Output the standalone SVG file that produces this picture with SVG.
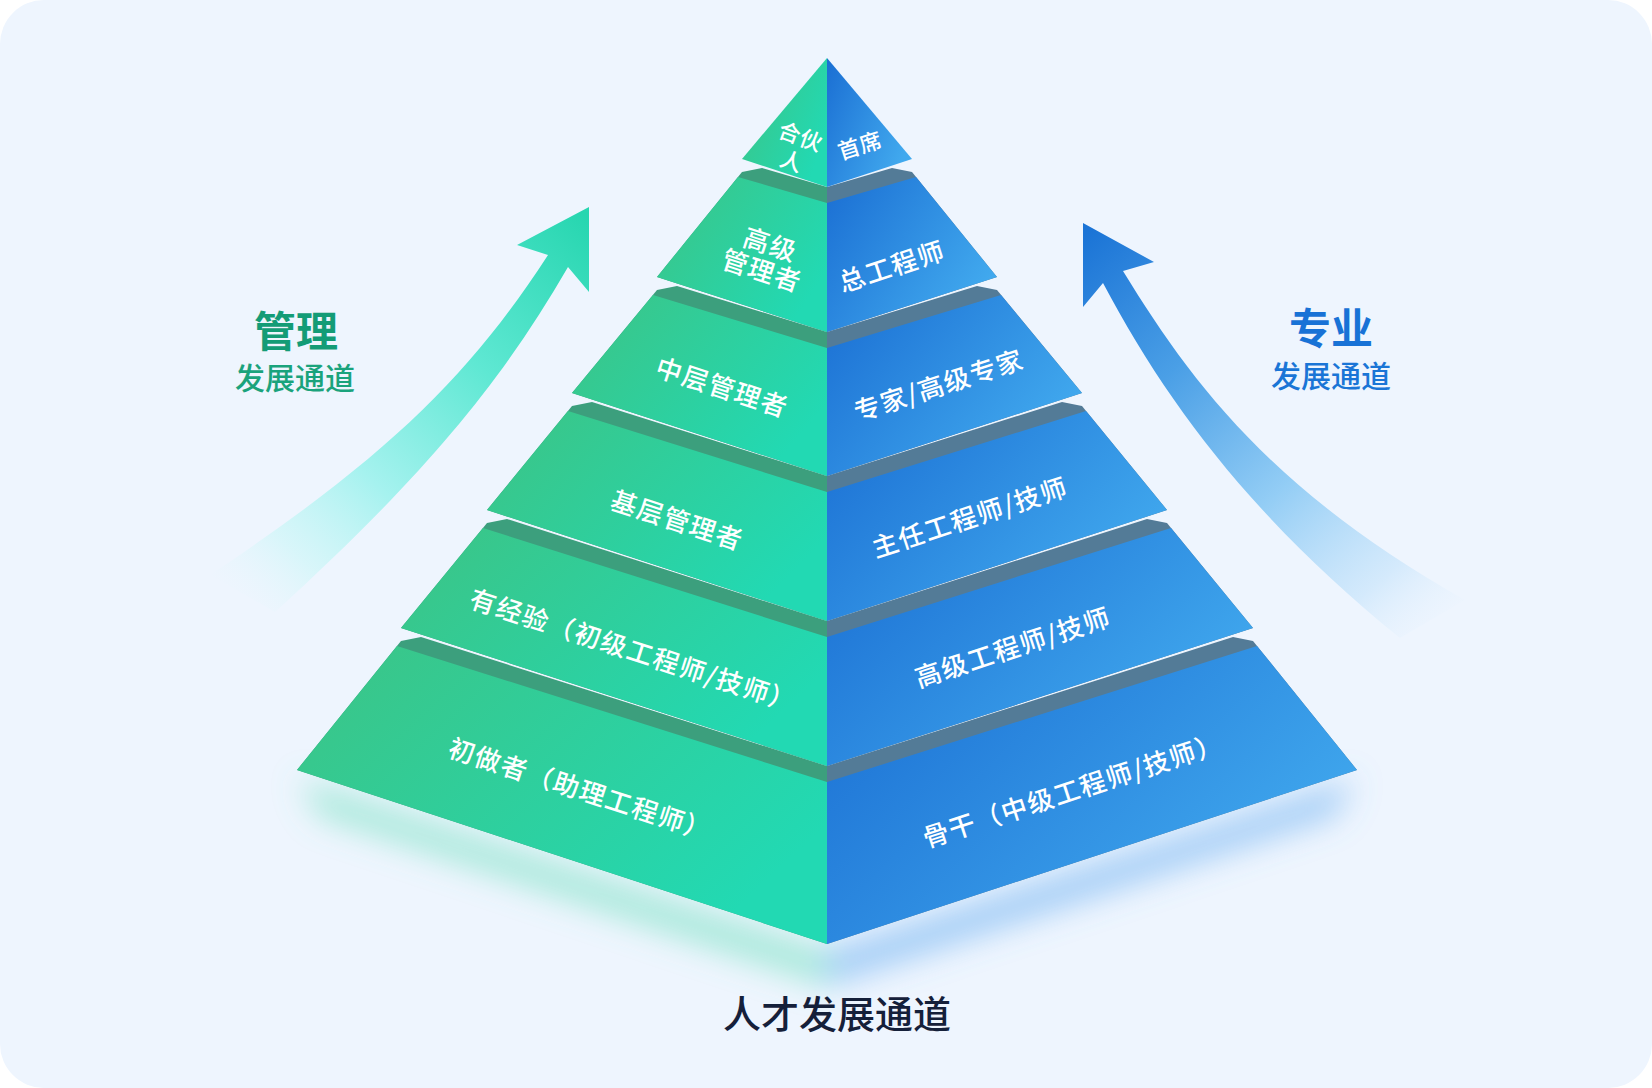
<svg xmlns="http://www.w3.org/2000/svg" width="1652" height="1088" viewBox="0 0 1652 1088">
<defs>
<style>
.lbl{font-family:"Noto Sans CJK SC","Noto Sans",sans-serif;font-size:26px;font-weight:500;fill:#ffffff;text-anchor:middle;letter-spacing:1.5px}
.sm{font-size:22px;letter-spacing:0.5px}
.shL{fill:#3c9f7d}
.shR{fill:#537b97}
.fL{fill:url(#gL)}
.fR{fill:url(#gR)}
.ttl{font-family:"Noto Sans CJK SC","Noto Sans",sans-serif;text-anchor:middle}
</style>
<linearGradient id="gL" x1="0" y1="0" x2="1" y2="0.6">
<stop offset="0" stop-color="#3cc485"/>
<stop offset="1" stop-color="#22d9b3"/>
</linearGradient>
<linearGradient id="gR" x1="0" y1="0" x2="1" y2="0.6">
<stop offset="0" stop-color="#1a6ed3"/>
<stop offset="1" stop-color="#41a9ee"/>
</linearGradient>
<linearGradient id="arrL" gradientUnits="userSpaceOnUse" x1="585" y1="215" x2="230" y2="600">
<stop offset="0" stop-color="#27d6b0"/>
<stop offset="0.35" stop-color="#5fe8d3"/>
<stop offset="0.65" stop-color="#a6f2ef"/>
<stop offset="0.85" stop-color="#cff6f8" stop-opacity="0.7"/>
<stop offset="1" stop-color="#e8f6fd" stop-opacity="0"/>
</linearGradient>
<linearGradient id="arrR" gradientUnits="userSpaceOnUse" x1="1090" y1="230" x2="1440" y2="635">
<stop offset="0" stop-color="#1b74d6"/>
<stop offset="0.3" stop-color="#4a9fe6"/>
<stop offset="0.6" stop-color="#93cdf5"/>
<stop offset="0.85" stop-color="#c9e5fb" stop-opacity="0.7"/>
<stop offset="1" stop-color="#e6f2fe" stop-opacity="0"/>
</linearGradient>
<filter id="blur" x="-30%" y="-30%" width="160%" height="160%">
<feGaussianBlur stdDeviation="16"/>
</filter>
</defs>

<rect width="1652" height="1088" fill="#ffffff"/>
<rect width="1652" height="1088" rx="44" fill="#eef5fe"/>

<!-- glow under pyramid -->
<g id="glow" filter="url(#blur)">
<polygon points="300,780 827,952 827,985 320,815" fill="#62dcb6" opacity="0.55"/>
<polygon points="1354,780 827,952 827,985 1334,815" fill="#5aa6ef" opacity="0.55"/>
</g>

<!-- arrows -->
<g id="arrow-left">
<path d="M589,207 L589,292 L568,267 C500,385 420,480 275,612 L210,575 C390,455 470,375 548,255 L517,245 Z" fill="url(#arrL)"/>
</g>
<g id="arrow-right">
<path d="M1083,223 L1154,262 L1123,271 C1190,380 1270,490 1465,600 L1400,638 C1260,525 1170,410 1103,283 L1083,307 Z" fill="url(#arrR)"/>
</g>

<!-- pyramid layers -->
<g id="layer6">
<polygon class="shL" points="827,766 421,637 401,641 297,770 827,944"/>
<polygon class="fL" points="827,782 397,646 297,770 827,944"/>
<polygon class="shR" points="827,766 1233,637 1253,641 1357,770 827,944"/>
<polygon class="fR" points="827,782 1257,646 1357,770 827,944"/>
<text class="lbl" transform="translate(580,790) rotate(18)" y="9">初做者（助理工程师）</text>
<text class="lbl" transform="translate(1073,791) rotate(-18)" y="9">骨干（中级工程师/技师）</text>
</g>
<g id="layer5">
<polygon class="shL" points="827,621 507,519 487,523 401,628 827,766"/>
<polygon class="fL" points="827,637 483,528 401,628 827,766"/>
<polygon class="shR" points="827,621 1147,519 1167,523 1253,628 827,766"/>
<polygon class="fR" points="827,637 1171,528 1253,628 827,766"/>
<text class="lbl" transform="translate(633,651) rotate(18)" y="9">有经验（初级工程师/技师）</text>
<text class="lbl" transform="translate(1013,648) rotate(-18)" y="9">高级工程师/技师</text>
</g>
<g id="layer4">
<polygon class="shL" points="827,476 592,402 572,406 487,510 827,621"/>
<polygon class="fL" points="827,492 568,411 487,510 827,621"/>
<polygon class="shR" points="827,476 1062,402 1082,406 1167,510 827,621"/>
<polygon class="fR" points="827,492 1086,411 1167,510 827,621"/>
<text class="lbl" transform="translate(677,521) rotate(18)" y="9">基层管理者</text>
<text class="lbl" transform="translate(970,518) rotate(-18)" y="9">主任工程师/技师</text>
</g>
<g id="layer3">
<polygon class="shL" points="827,332 677,286 657,290 572,393 827,476"/>
<polygon class="fL" points="827,348 653,295 572,393 827,476"/>
<polygon class="shR" points="827,332 977,286 997,290 1082,393 827,476"/>
<polygon class="fR" points="827,348 1001,295 1082,393 827,476"/>
<text class="lbl" transform="translate(722,388) rotate(18)" y="9">中层管理者</text>
<text class="lbl" transform="translate(939,386) rotate(-18)" y="9">专家/高级专家</text>
</g>
<g id="layer2">
<polygon class="shL" points="827,187 762,168 742,172 657,277 827,332"/>
<polygon class="fL" points="827,203 738,177 657,277 827,332"/>
<polygon class="shR" points="827,187 892,168 912,172 997,277 827,332"/>
<polygon class="fR" points="827,203 916,177 997,277 827,332"/>
<text class="lbl" transform="translate(766,258) rotate(18)"><tspan x="0" y="-4.5">高级</tspan><tspan x="0" y="23">管理者</tspan></text>
<text class="lbl" transform="translate(892,267) rotate(-18)" y="9">总工程师</text>
</g>
<g id="layer1">
<polygon class="fL" points="827,58 742,159 827,187"/>
<polygon class="fR" points="827,58 912,159 827,187"/>
<text class="lbl sm" transform="translate(796,149) rotate(20)"><tspan x="0" y="-5">合伙</tspan><tspan x="0" y="21">人</tspan></text>
<text class="lbl sm" transform="translate(860,146) rotate(-18)" y="7.5">首席</text>
</g>

<!-- side titles -->
<g id="title-left">
<text class="ttl" x="296" y="347" font-size="42" font-weight="700" fill="#139c76">管理</text>
<text class="ttl" x="295" y="389" font-size="30" font-weight="500" fill="#1aa37c">发展通道</text>
</g>
<g id="title-right">
<text class="ttl" x="1331" y="344" font-size="42" font-weight="700" fill="#1872d6">专业</text>
<text class="ttl" x="1331" y="387" font-size="30" font-weight="500" fill="#1a75d6">发展通道</text>
</g>
<g id="title-bottom">
<text class="ttl" x="837" y="1028" font-size="38" font-weight="500" fill="#15203a">人才发展通道</text>
</g>
</svg>
